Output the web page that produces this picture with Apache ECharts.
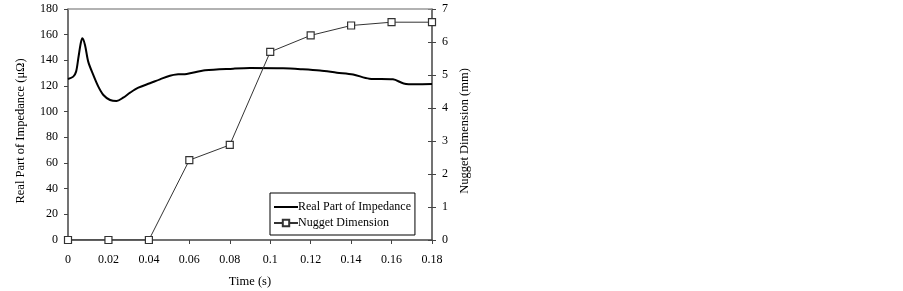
<!DOCTYPE html>
<html>
<head>
<meta charset="utf-8">
<script src="https://cdn.jsdelivr.net/npm/echarts@6/dist/echarts.min.js"></script>
<style>
  html, body { margin: 0; padding: 0; background: #fff; }
  #chart { width: 903px; height: 291px; }
</style>
</head>
<body>
<div id="chart"></div>
<script>
// impedance trace (time in s, value in µΩ)
const impTime = [0, 0.0026, 0.004, 0.0051, 0.0063, 0.0071, 0.0084, 0.01, 0.0125, 0.015,
  0.0175, 0.0208, 0.024, 0.0273, 0.0307, 0.0348, 0.0405, 0.0455, 0.0504, 0.0545,
  0.0587, 0.0678, 0.0817, 0.09, 0.1064, 0.116, 0.1246, 0.133, 0.141, 0.149,
  0.1607, 0.166, 0.172, 0.18]
const impValue = [125.5, 127.3, 131.2, 141.6, 153.3, 157.2, 152, 139, 128.6, 119.5,
  113, 109.1, 108.3, 110.9, 114.8, 118.7, 122.1, 125.2, 128, 129.1,
  129.4, 132.2, 133.5, 134, 133.8, 133, 132, 130.4, 129, 125.7,
  125.2, 122, 121.3, 121.5]

// nugget dimension (mm)
const nuggetTime = [0, 0.02, 0.04, 0.06, 0.08, 0.1, 0.12, 0.14, 0.16, 0.18]
const nuggetValue = [0, 0, 0, 2.42, 2.88, 5.7, 6.2, 6.5, 6.6, 6.6]

const font = "Liberation Serif"
const axisColor = "#444"
const tickLabel = { fontFamily: font, fontSize: 12, color: "#000" }
// titles sit a little below the plot centre in the original
const titleText = { fontFamily: font, fontSize: 12.5, color: "#000", padding: [0, 13, 0, 0] }

const chart = echarts.init(document.getElementById("chart"))

chart.setOption({
  animation: false,
  textStyle: { fontFamily: font },
  legend: {
    orient: "vertical",
    left: 270,
    top: 193,
    padding: [8, 4, 6, 3],
    itemGap: 4,
    itemWidth: 24,
    itemHeight: 8,
    borderColor: "#000",
    borderWidth: 1,
    textStyle: { fontFamily: font, fontSize: 12, color: "#000", padding: [0, 0, 0, -5] },
    data: [
      { name: "Real Part of Impedance", icon: "path://M0 0 H24 V2 H0 Z", itemStyle: { color: "#000" } },
      "Nugget Dimension",
    ],
  },
  grid: { left: 68, right: 471, top: 9, bottom: 51, outerBoundsMode: "none" },
  xAxis: {
    type: "value",
    min: 0,
    max: 0.18,
    interval: 0.02,
    name: "Time (s)",
    nameLocation: "middle",
    nameGap: 35,
    nameTextStyle: { ...titleText, padding: 0 },
    axisLine: { onZero: false, lineStyle: { color: axisColor, width: 1.5 } },
    axisTick: { length: 4, lineStyle: { color: axisColor } },
    axisLabel: { ...tickLabel, margin: 14, formatter: (v) => String(+v.toFixed(2)) },
    splitLine: { show: false },
  },
  yAxis: [
    {
      type: "value",
      min: 0,
      max: 180,
      interval: 20,
      name: "Real Part of Impedance (μΩ)",
      nameLocation: "middle",
      nameGap: 41,
      nameTextStyle: titleText,
      axisLine: { show: true, lineStyle: { color: axisColor, width: 1.5 } },
      axisTick: { show: true, length: 4, lineStyle: { color: axisColor } },
      axisLabel: { ...tickLabel, margin: 10 },
      splitLine: { show: false },
    },
    {
      type: "value",
      min: 0,
      max: 7,
      interval: 1,
      name: "Nugget Dimension (mm)",
      nameLocation: "middle",
      nameGap: 26,
      nameTextStyle: titleText,
      axisLine: { show: true, lineStyle: { color: axisColor, width: 1.5 } },
      axisTick: { show: true, length: 4, lineStyle: { color: axisColor } },
      axisLabel: { ...tickLabel, margin: 10 },
      splitLine: { show: false },
    },
    {
      // inner half of the crossing ticks on the right axis
      type: "value",
      position: "right",
      min: 0,
      max: 7,
      interval: 1,
      axisLine: { show: false },
      axisTick: { show: true, inside: true, length: 4, lineStyle: { color: axisColor } },
      axisLabel: { show: false },
      splitLine: { show: false },
    },
  ],
  series: [
    {
      name: "Real Part of Impedance",
      type: "line",
      yAxisIndex: 0,
      smooth: 0.3,
      symbol: "none",
      lineStyle: { color: "#000", width: 2 },
      itemStyle: { color: "#000" },
      data: impTime.map((t, i) => [t, impValue[i]]),
      markLine: {
        silent: true,
        symbol: "none",
        label: { show: false },
        lineStyle: { color: "#999", width: 1.5, type: "solid" },
        data: [{ yAxis: 180 }],
      },
      z: 3,
    },
    {
      name: "Nugget Dimension",
      type: "line",
      yAxisIndex: 1,
      symbol: "rect",
      symbolSize: 7,
      lineStyle: { color: "#333", width: 1 },
      itemStyle: { color: "#fff", borderColor: "#333", borderWidth: 1.2 },
      data: nuggetTime.map((t, i) => [t, nuggetValue[i]]),
      z: 4,
    },
  ],
})
</script>
</body>
</html>
